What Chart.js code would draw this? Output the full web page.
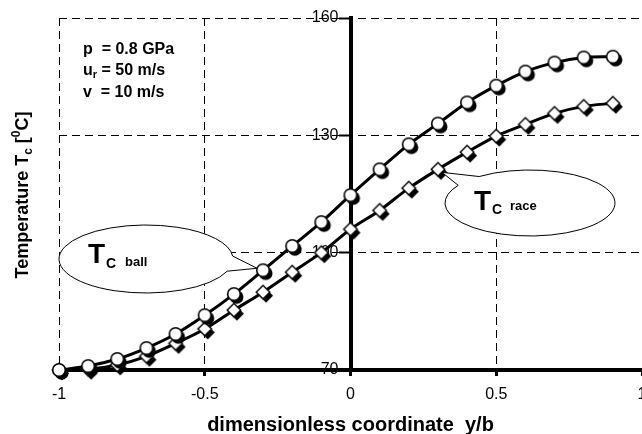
<!DOCTYPE html>
<html>
<head>
<meta charset="utf-8">
<script src="https://cdn.jsdelivr.net/npm/chart.js@4.4.1/dist/chart.umd.min.js"></script>
<style>
  html, body { margin: 0; padding: 0; background: #fff; }
  canvas { display: block; }
</style>
</head>
<body>
<canvas id="tempChart" width="642" height="434"></canvas>
<script>
// 데이터
const xValues = [-1, -0.9, -0.8, -0.7, -0.6, -0.5, -0.4, -0.3, -0.2, -0.1, 0, 0.1, 0.2, 0.3, 0.4, 0.5, 0.6, 0.7, 0.8, 0.9];
const ballTemps = [70, 71, 72.8, 75.6, 79.2, 84, 89.4, 95.5, 101.7, 107.8, 114.7, 121.3, 127.7, 133, 138.4, 142.7, 146.3, 148.6, 149.9, 150.1];
const raceTemps = [70, 70.2, 71.3, 73.5, 76.8, 80.5, 85.3, 89.9, 95, 100, 106, 110.8, 116.5, 121.3, 125.7, 129.8, 132.8, 135.6, 137.4, 138.2];
const xTickStep = 0.5;
const yTickStep = 30;
const xRange = [-1, 1];
const yRange = [70, 160];
const paramLines = ['p  = 0.8 GPa', 'u|r| = 50 m/s', 'v  = 10 m/s'];
const ballLabelIdx = 7;   // 말풍선이 가리키는 점
const raceLabelIdx = 13;

const FONT = "'Liberation Sans', Arial, sans-serif";

function toPoints(ys) {
    return xValues.map((x, i) => ({ x: x, y: ys[i] }));
}

// 그림자 있는 원 마커
function circleMarker() {
    const c = document.createElement('canvas');
    c.width = 24; c.height = 24;
    const g = c.getContext('2d');
    g.fillStyle = '#000';
    g.beginPath(); g.arc(14.7, 15, 6.8, 0, Math.PI * 2); g.fill();
    g.fillStyle = '#fff'; g.strokeStyle = '#000'; g.lineWidth = 1.6;
    g.beginPath(); g.arc(12, 12, 6.3, 0, Math.PI * 2); g.fill(); g.stroke();
    return c;
}

// 그림자 있는 마름모 마커
function diamondMarker() {
    const c = document.createElement('canvas');
    c.width = 24; c.height = 24;
    const g = c.getContext('2d');
    const dia = (cx, cy, r) => {
        g.beginPath();
        g.moveTo(cx, cy - r); g.lineTo(cx + r, cy); g.lineTo(cx, cy + r); g.lineTo(cx - r, cy);
        g.closePath();
    };
    g.fillStyle = '#000';
    dia(15, 15.5, 7); g.fill();
    g.fillStyle = '#fff'; g.strokeStyle = '#000'; g.lineWidth = 1.4;
    dia(12, 12, 6.8); g.fill(); g.stroke();
    return c;
}

function drawCallout(ctx, cx, cy, rx, ry, gapStart, gapEnd, tip) {
    const d = Math.PI / 180;
    ctx.save();
    ctx.beginPath();
    ctx.ellipse(cx, cy, rx, ry, 0, gapEnd * d, gapStart * d + Math.PI * 2, false);
    ctx.lineTo(tip.x, tip.y);
    ctx.closePath();
    ctx.fillStyle = '#fff';
    ctx.fill();
    ctx.lineWidth = 1;
    ctx.strokeStyle = '#000';
    ctx.stroke();
    ctx.restore();
}

// 텍스트 조각 이어 그리기 (아래첨자, 위첨자)
function drawRuns(ctx, runs, x, y) {
    let cx = x;
    runs.forEach(r => {
        ctx.font = r.font;
        ctx.fillText(r.text, cx, y + (r.dy || 0));
        cx += ctx.measureText(r.text).width;
    });
    return cx;
}

function runsWidth(ctx, runs) {
    let w = 0;
    runs.forEach(r => { ctx.font = r.font; w += ctx.measureText(r.text).width; });
    return w;
}

const annotations = {
    id: 'annotations',
    afterDatasetsDraw(chart) {
        const ctx = chart.ctx;
        const xs = chart.scales.x;
        const ys = chart.scales.y;
        ctx.save();
        ctx.fillStyle = '#000';
        ctx.textBaseline = 'alphabetic';
        ctx.textAlign = 'left';

        // y축 제목
        const yTitle = [
            { text: 'Temperature T', font: 'bold 18px ' + FONT },
            { text: 'c', font: 'bold 12px ' + FONT, dy: 4 },
            { text: ' [', font: 'bold 18px ' + FONT },
            { text: '0', font: 'bold 12px ' + FONT, dy: -8 },
            { text: 'C]', font: 'bold 18px ' + FONT }
        ];
        ctx.save();
        ctx.translate(28, 195);
        ctx.rotate(-Math.PI / 2);
        drawRuns(ctx, yTitle, -runsWidth(ctx, yTitle) / 2, 0);
        ctx.restore();

        // 조건 텍스트
        const pFont = 'bold 16px ' + FONT;
        const baselines = [54, 75, 97];
        paramLines.forEach((line, i) => {
            const parts = line.split('|');
            const runs = [{ text: parts[0], font: pFont }];
            if (parts.length > 1) {
                runs.push({ text: parts[1], font: 'bold 11px ' + FONT, dy: 3 });
                runs.push({ text: parts[2], font: pFont });
            }
            drawRuns(ctx, runs, 83, baselines[i]);
        });

        // 말풍선 - ball
        const bx = xs.getPixelForValue(xValues[ballLabelIdx]);
        const by = ys.getPixelForValue(ballTemps[ballLabelIdx]);
        drawCallout(ctx, 146, 259, 87, 34, -5, 21, { x: bx - 6, y: by - 2 });
        ctx.fillStyle = '#000';
        drawRuns(ctx, [{ text: 'T', font: 'bold 28px ' + FONT }], 88, 263);
        drawRuns(ctx, [{ text: 'C', font: 'bold 14px ' + FONT }], 106, 268);
        drawRuns(ctx, [{ text: 'ball', font: 'bold 13px ' + FONT }], 125, 266);

        // 말풍선 - race
        const rx = xs.getPixelForValue(xValues[raceLabelIdx]);
        const ry = ys.getPixelForValue(raceTemps[raceLabelIdx]);
        drawCallout(ctx, 530, 203, 85, 33, -147.6, -126.7, { x: rx + 4, y: ry + 3 });
        ctx.fillStyle = '#000';
        drawRuns(ctx, [{ text: 'T', font: 'bold 28px ' + FONT }], 474, 210);
        drawRuns(ctx, [{ text: 'C', font: 'bold 14px ' + FONT }], 492, 214);
        drawRuns(ctx, [{ text: 'race', font: 'bold 13px ' + FONT }], 510, 210);

        ctx.restore();
    }
};

new Chart(document.getElementById('tempChart'), {
    type: 'line',
    data: {
        datasets: [{
            label: 'Tc ball',
            data: toPoints(ballTemps),
            borderColor: '#000',
            borderWidth: 3,
            tension: 0.3,
            pointStyle: circleMarker(),
            pointRadius: 7,
            clip: false
        }, {
            label: 'Tc race',
            data: toPoints(raceTemps),
            borderColor: '#000',
            borderWidth: 3,
            tension: 0.3,
            pointStyle: diamondMarker(),
            pointRadius: 7,
            clip: false
        }]
    },
    options: {
        responsive: false,
        animation: false,
        layout: {
            autoPadding: false,
            padding: { left: 59, right: -3, top: 18, bottom: 0 }
        },
        plugins: {
            legend: { display: false },
            tooltip: { enabled: false }
        },
        scales: {
            x: {
                type: 'linear',
                position: 'bottom',
                min: xRange[0],
                max: xRange[1],
                ticks: {
                    stepSize: xTickStep,
                    autoSkip: false,
                    maxRotation: 0,
                    padding: 9,
                    color: '#000',
                    font: { family: FONT, size: 16 },
                    callback: v => String(v)
                },
                grid: { color: '#000', lineWidth: 1, tickLength: 6, tickWidth: 3, tickColor: '#000' },
                border: { color: '#000', width: 4, dash: [8, 5] },
                title: {
                    display: true,
                    text: 'dimensionless coordinate  y/b',
                    color: '#000',
                    font: { family: FONT, size: 20, weight: 'bold' },
                    padding: { top: 0, bottom: -3 }
                },
                afterFit(scale) {
                    scale.height = 64;
                    scale.paddingLeft = 0;
                    scale.paddingRight = -3;
                }
            },
            y: {
                type: 'linear',
                position: 'center',
                min: yRange[0],
                max: yRange[1],
                ticks: {
                    stepSize: yTickStep,
                    padding: 2,
                    color: '#000',
                    font: { family: FONT, size: 16 }
                },
                grid: { color: '#000', lineWidth: 1, tickLength: 10, tickWidth: 2, tickColor: '#000' },
                border: { color: '#000', width: 4, dash: [8, 5] },
                afterFit(scale) {
                    scale.paddingRight = -3;
                }
            }
        }
    },
    plugins: [annotations]
});
</script>
</body>
</html>
